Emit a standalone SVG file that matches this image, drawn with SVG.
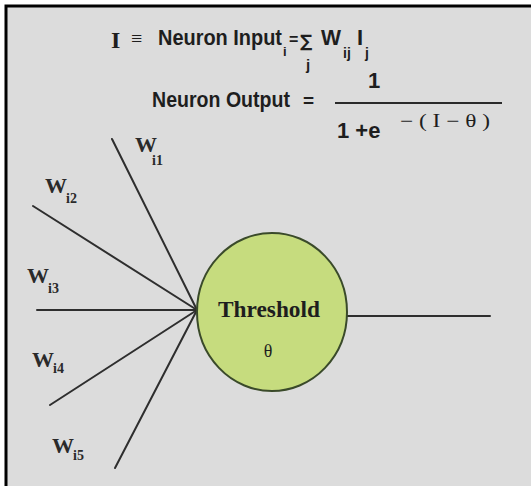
<svg xmlns="http://www.w3.org/2000/svg" width="531" height="486" viewBox="0 0 531 486">
<style>
.sans{font-family:"Liberation Sans",Arial,sans-serif;font-weight:bold;fill:#1e1e1e}
.serif{font-family:"Liberation Serif","Times New Roman",serif;fill:#1e1e1e}
.wl{font-family:"Liberation Serif","Times New Roman",serif;font-weight:bold;fill:#2a2a2a}
.edge{stroke:#2e2e2e;stroke-width:2;fill:none;stroke-linecap:round}
</style>
<rect x="0" y="0" width="531" height="486" fill="#ffffff"/>
<rect x="6" y="6" width="525" height="480" fill="#dcdcdc"/>
<path d="M6 486 V6 H531" stroke="#000" stroke-width="3" fill="none"/>

<g id="formula">
<text class="serif" x="111" y="48" font-size="24" font-weight="bold">I</text>
<text class="serif" x="131" y="45" font-size="20">≡</text>
<text class="sans" x="158" y="45" font-size="22" textLength="124" lengthAdjust="spacingAndGlyphs">Neuron Input</text>
<text class="sans" x="283" y="56" font-size="13">i</text>
<text class="sans" x="289" y="45" font-size="16">=</text>
<text class="sans" x="300" y="47" font-size="17" font-weight="normal" style="font-family:'DejaVu Sans',sans-serif">∑</text>
<text class="sans" x="306" y="70" font-size="15">j</text>
<text class="sans" x="321" y="45" font-size="22" textLength="20" lengthAdjust="spacingAndGlyphs">W</text>
<text class="sans" x="343" y="58" font-size="14">ij</text>
<text class="sans" x="357" y="45" font-size="22">I</text>
<text class="sans" x="365" y="58" font-size="14">j</text>

<text class="sans" x="152" y="107" font-size="22" textLength="138" lengthAdjust="spacingAndGlyphs">Neuron Output</text>
<text class="sans" x="303" y="107" font-size="19">=</text>
<text class="sans" x="368" y="88" font-size="22">1</text>
<line x1="335" y1="103" x2="502" y2="103" stroke="#2a2a2a" stroke-width="2"/>
<text class="sans" x="337" y="138" font-size="22">1 +e</text>
<text class="serif" x="400" y="127" font-size="18" textLength="90" lengthAdjust="spacingAndGlyphs">− ( I − θ )</text>
</g>

<g id="connectors">
<line class="edge" x1="112" y1="139" x2="197" y2="310"/>
<line class="edge" x1="33" y1="206" x2="197" y2="310"/>
<line class="edge" x1="37" y1="310" x2="197" y2="310"/>
<line class="edge" x1="50" y1="405" x2="197" y2="310"/>
<line class="edge" x1="115" y1="468" x2="197" y2="310"/>
<line class="edge" x1="347" y1="316" x2="490" y2="316"/>
</g>

<g id="w-labels">
<g id="w1"><text class="wl" x="135" y="152" font-size="22">W</text><text class="wl" x="152" y="165" font-size="14">i1</text></g>
<g id="w2"><text class="wl" x="45" y="193" font-size="22">W</text><text class="wl" x="66" y="203" font-size="14">i2</text></g>
<g id="w3"><text class="wl" x="27" y="283" font-size="22">W</text><text class="wl" x="48" y="293" font-size="14">i3</text></g>
<g id="w4"><text class="wl" x="32" y="367" font-size="22">W</text><text class="wl" x="53" y="373" font-size="14">i4</text></g>
<g id="w5"><text class="wl" x="52" y="453" font-size="22">W</text><text class="wl" x="73" y="460" font-size="14">i5</text></g>
</g>

<g id="neuron">
<ellipse cx="272" cy="312" rx="75" ry="79" fill="#c6dc7e" stroke="#3a4a2a" stroke-width="2"/>
<text class="serif" x="269" y="317" font-size="23" font-weight="bold" text-anchor="middle" textLength="102" lengthAdjust="spacingAndGlyphs" fill="#2a3320">Threshold</text>
<text class="serif" x="268" y="357" font-size="18" text-anchor="middle" fill="#2a3320">θ</text>
</g>
</svg>
